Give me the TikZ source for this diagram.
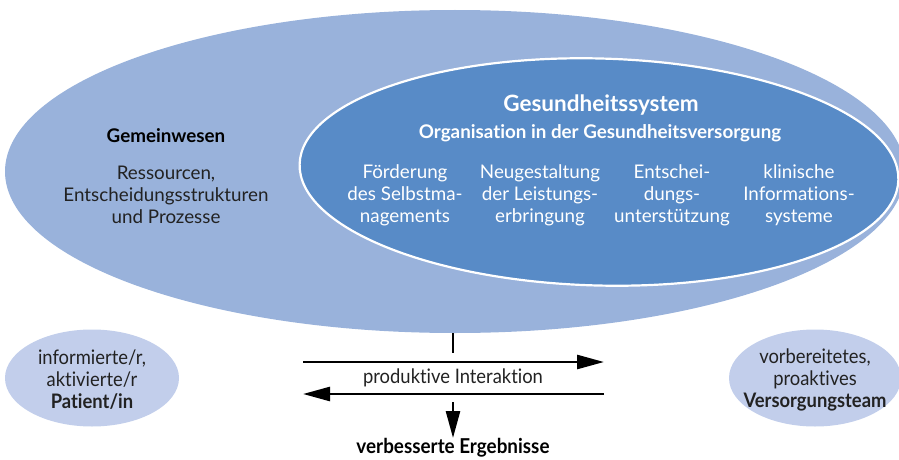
\documentclass[tikz,border=0pt]{standalone}
\usepackage{fontspec}
\setmainfont{Lato}[RawFeature=-liga;-dlig]
\newfontfamily\condfont{Lato}[FakeStretch=0.92,RawFeature=-liga;-dlig]
\usetikzlibrary{shapes.geometric,arrows.meta}
\definecolor{outerblue}{RGB}{153,178,219}
\definecolor{innerblue}{RGB}{88,139,199}
\definecolor{smallblue}{RGB}{194,206,235}
\definecolor{darktext}{RGB}{34,34,34}
\begin{document}
\begin{tikzpicture}[x=1pt,y=-1pt,
  ell/.style={ellipse,inner sep=0pt,draw=none},
  body/.style={align=center,inner sep=0pt,font=\fontsize{18.8}{22}\selectfont},
  whitebody/.style={body,text=white},
  condbody/.style={align=center,inner sep=0pt,text=darktext,font=\condfont\fontsize{20}{22}\selectfont},
  arr/.style={line width=2.6pt,-{Triangle[length=27pt,width=14pt]}},
]
\useasboundingbox (0,0) rectangle (899,460);
\begin{scope}
\clip (0,0) rectangle (899,460);
\node[ell,fill=outerblue,minimum width=900pt,minimum height=323pt] (community) at (455,171.5) {};
\node[ell,fill=innerblue,draw=white,line width=2.2pt,minimum width=599pt,minimum height=227pt,rotate=-1.5] (health) at (599,172) {};
\end{scope}
% community texts
\node[body,text=black,font=\fontsize{18.8}{22}\selectfont\bfseries] (gem) at (166,136) {Gemeinwesen};
\node[body,text=darktext] (gembody) at (166,195) {Ressourcen,\\Entscheidungsstrukturen\\und Prozesse};
% health system texts
\node[whitebody,font=\fontsize{22.5}{26}\selectfont\bfseries] (ges) at (601,105) {Gesundheitssystem};
\node[whitebody,font=\fontsize{18.8}{22}\selectfont\bfseries] (org) at (600,133) {Organisation in der Gesundheitsversorgung};
\node[whitebody] (c1) at (405,195) {Förderung\\des Selbstma-\\nagements};
\node[whitebody] (c2) at (540,195) {Neugestaltung\\der Leistungs-\\erbringung};
\node[whitebody] (c3) at (672,195) {Entschei-\\dungs-\\unterstützung};
\node[whitebody] (c4) at (799,195) {klinische\\Informations-\\systeme};
% small ellipses
\node[ell,fill=smallblue,minimum width=174pt,minimum height=97pt] (patient) at (92,378) {};
\node[condbody] (ptext) at (92,380) {informierte/r,\\aktivierte/r\\\textbf{Patient/in}};
\node[ell,fill=smallblue,minimum width=172pt,minimum height=97pt] (team) at (815,378) {};
\node[condbody] (ttext) at (815,380) {vorbereitetes,\\proaktives\\\textbf{Versorgungsteam}};
% interaction
\coordinate (vtop) at (453,353);
\coordinate (r1) at (303,362);
\coordinate (r2) at (604,362);
\coordinate (l1) at (604,394);
\coordinate (l2) at (303,394);
\coordinate (d1) at (453,402);
\coordinate (d2) at (453,438);
\draw[line width=2.6pt] (community.south -| vtop) -- (vtop);
\draw[arr] (r1) -- (r2);
\draw[arr] (l1) -- (l2);
\draw[arr] (d1) -- (d2);
\node[condbody] (inter) at (453,378) {produktive Interaktion};
\node[condbody,text=black,font=\condfont\fontsize{20.5}{22}\selectfont\bfseries] (result) at (453,448) {verbesserte Ergebnisse};
\end{tikzpicture}
\end{document}
